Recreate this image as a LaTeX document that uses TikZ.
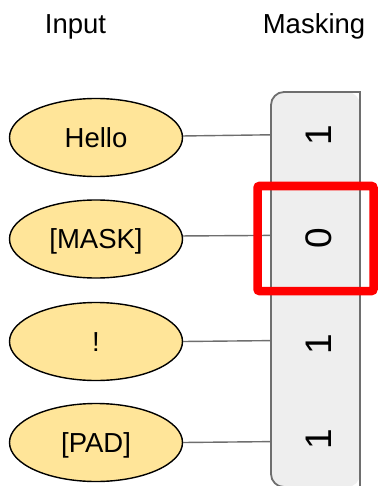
\documentclass[tikz,border=0pt]{standalone}
\usepackage{fontspec}
\setmainfont{Liberation Sans}
\usetikzlibrary{shapes.geometric}
\definecolor{tokfill}{HTML}{FFE599}
\definecolor{maskfill}{HTML}{EEEEEE}
\definecolor{edgegray}{HTML}{6E6E6E}
\begin{document}
\begin{tikzpicture}[x=1pt,y=-1pt,
  token/.style={ellipse,draw=black,line width=1.4pt,fill=tokfill,
    minimum width=173pt,minimum height=78pt,inner sep=0pt,
    font=\fontsize{27.5}{33}\selectfont,text height=19.6pt,text depth=0pt},
  title/.style={font=\fontsize{27.5}{33}\selectfont,inner sep=0pt,anchor=base},
  digit/.style={rotate=90,inner sep=0pt,font=\fontsize{37}{44}\selectfont,
    text height=26.5pt,text depth=0pt},
  link/.style={draw=edgegray,line width=1.4pt},
  highlight/.style={draw=red,line width=8.5pt,rounded corners=2pt}]
\useasboundingbox (0,0) rectangle (378,486);
% titles
\node[title] (tin) at (75.5,33.5) {Input};
\node[title] (tmask) at (314,33.5) {Masking};
% mask column
\fill[maskfill,rounded corners=13pt] (360,92) -- (271,92) -- (271,487) -- (360,487) -- cycle;
\draw[edgegray,line width=1.8pt,rounded corners=13pt] (360,92) -- (271,92) -- (271,487) -- (360,487);
\draw[edgegray,line width=1.8pt,line cap=rect] (360,92) -- (360,487);
\coordinate (m1) at (271,134.8);
\coordinate (m2) at (271,235.4);
\coordinate (m3) at (271,340.6);
\coordinate (m4) at (271,441.6);
% tokens
\node[token] (e1) at (96,137.5) {Hello};
\node[token] (e2) at (96,239) {[MASK]};
\node[token] (e3) at (96,341.5) {!};
\node[token] (e4) at (96,442.5) {[PAD]};
% links
\draw[link] (e1.1.8) -- (m1);
\draw[link] (e2.2.4) -- (m2);
\draw[link] (e3.0.6) -- (m3);
\draw[link] (e4.0.6) -- (m4);
% digits
\node[digit] (d1) at (318,135) {1};
\node[digit] (d2) at (318,238.5) {0};
\node[digit] (d3) at (318,344) {1};
\node[digit] (d4) at (318,439) {1};
% highlight
\draw[highlight] (257.5,186) rectangle (373.5,291);
\end{tikzpicture}
\end{document}
